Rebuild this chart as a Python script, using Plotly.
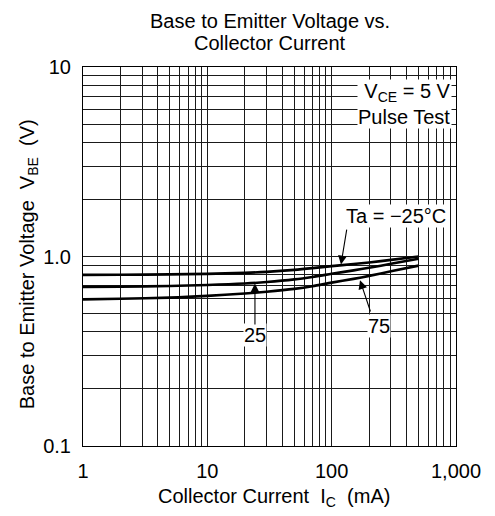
import plotly.graph_objects as go

# ---- data ----
ic_ma = [1, 2, 5, 10, 20, 30, 50, 70, 100, 150, 200, 300, 500]
vbe_m25 = [0.800, 0.801, 0.805, 0.810, 0.820, 0.830, 0.850, 0.868, 0.890, 0.912, 0.930, 0.960, 1.000]
vbe_25 = [0.690, 0.693, 0.699, 0.707, 0.720, 0.733, 0.757, 0.780, 0.810, 0.845, 0.872, 0.915, 0.972]
vbe_75 = [0.594, 0.598, 0.607, 0.620, 0.638, 0.652, 0.675, 0.697, 0.728, 0.762, 0.790, 0.835, 0.895]

x_ticks = [1, 10, 100, 1000]
x_ticktext = ["1", "10", "100", "1,000"]
y_ticks = [0.1, 1.0, 10]
y_ticktext = ["0.1", "1.0", "10"]
x_minor = [m * d for d in (1, 10, 100) for m in range(2, 10)]
y_minor = [m * d for d in (0.1, 1) for m in range(2, 10)]

FONT = "Liberation Sans, Arial, sans-serif"
FS = 20

fig = go.Figure()
for ys in (vbe_m25, vbe_25, vbe_75):
    fig.add_trace(go.Scatter(x=ic_ma, y=ys, mode="lines",
                             line=dict(color="black", width=2.6, shape="spline", smoothing=0.8),
                             showlegend=False, hoverinfo="skip"))

grid = "#1a1a1a"
common = dict(type="log", showgrid=True, gridcolor=grid, gridwidth=1,
              showline=True, linecolor="black", linewidth=1, mirror=True,
              zeroline=False, automargin=False,
              ticks="outside", tickcolor="rgba(0,0,0,0)",
              tickfont=dict(family=FONT, size=FS, color="black"))
fig.update_xaxes(range=[0, 3], tickvals=x_ticks, ticktext=x_ticktext, ticklen=7,
                 minor=dict(tickvals=x_minor, showgrid=True, gridcolor=grid, gridwidth=1, ticks=""),
                 **common)
fig.update_yaxes(range=[-1, 1], tickvals=y_ticks, ticktext=y_ticktext, ticklen=7,
                 minor=dict(tickvals=y_minor, showgrid=True, gridcolor=grid, gridwidth=1, ticks=""),
                 **common)

txt = dict(family=FONT, size=FS, color="black")
ann = []
# chart title (two lines), axis titles
ann.append(dict(x=0.5, y=1.121, xref="paper", yref="paper", text="Base to Emitter Voltage vs.",
                showarrow=False, font=txt, xanchor="center", yanchor="middle"))
ann.append(dict(x=0.5, y=1.064, xref="paper", yref="paper", text="Collector Current",
                showarrow=False, font=txt, xanchor="center", yanchor="middle"))
ann.append(dict(x=0.512, y=-0.135, xref="paper", yref="paper",
                text="Collector Current  I<sub>C</sub>  (mA)",
                showarrow=False, font=txt, xanchor="center", yanchor="middle"))
ann.append(dict(x=-0.147, y=0.48, xref="paper", yref="paper", textangle=-90,
                text="Base to Emitter Voltage  V<sub>BE</sub>  (V)",
                showarrow=False, font=txt, xanchor="center", yanchor="middle"))
# labels inside the plot
ann.append(dict(x=2.965, y=0.807, xref="x", yref="y", xanchor="right", yanchor="middle",
                text="V<sub>CE</sub> = 5 V<br>Pulse Test", align="right", showarrow=False,
                bgcolor="white", font=txt, borderpad=0))
ann.append(dict(x=2.517, y=0.214, xref="x", yref="y", text="Ta = \u221225\u00b0C",
                showarrow=False, bgcolor="white", font=txt, borderpad=0))
ann.append(dict(x=1.383, y=-0.414, xref="x", yref="y", text="25",
                showarrow=False, bgcolor="white", font=txt, borderpad=0))
ann.append(dict(x=2.38, y=-0.367, xref="x", yref="y", text="75",
                showarrow=False, bgcolor="white", font=txt, borderpad=0))
# arrows (tail -> tip)
for (tx, ty, hx, hy) in [(2.123, 0.150, 2.075, -0.042),
                         (1.383, -0.367, 1.383, -0.142),
                         (2.316, -0.298, 2.228, -0.125)]:
    ann.append(dict(x=hx, y=hy, ax=tx, ay=ty, xref="x", yref="y", axref="x", ayref="y",
                    text="", showarrow=True, arrowhead=2,
                    arrowsize=1.6, arrowwidth=1.1, arrowcolor="black", standoff=0,
                    startstandoff=0))

# page body adds an 8px offset; margins compensate so the plot lands at the reference position
fig.update_layout(
    width=495, height=516,
    margin=dict(l=75, r=47, t=59, b=78, autoexpand=False),
    paper_bgcolor="white", plot_bgcolor="white",
    annotations=ann,
    showlegend=False,
)

fig.write_html("out.html")
